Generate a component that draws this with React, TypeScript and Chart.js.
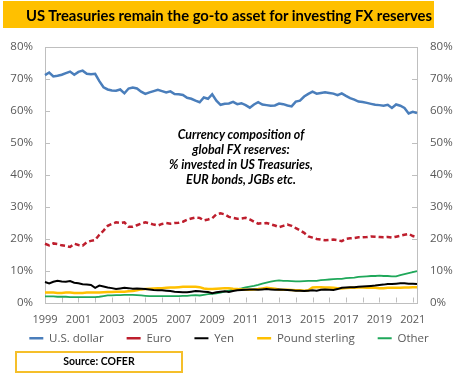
import React, { useEffect, useRef } from "react";
import { Chart, registerables } from "chart.js";

Chart.register(...registerables);

const firstYear = 1999;
const quarterCount = 90; // 1999Q1 .. 2021Q2
const quarters: string[] = [];
for (let i = 0; i < quarterCount; i++) {
  quarters.push(`${firstYear + Math.floor(i / 4)}Q${(i % 4) + 1}`);
}
const yearTickLabels = ["1999", "2001", "2003", "2005", "2007", "2009", "2011", "2013", "2015", "2017", "2019", "2021"];
const yTickValues = [0, 10, 20, 30, 40, 50, 60, 70, 80];

const seriesNames = ["U.S. dollar", "Euro", "Yen", "Pound sterling", "Other"];

const usd = [
  71.2, 72.0, 70.8, 71.0, 71.3, 71.8, 72.3, 71.3, 72.2, 72.6,
  71.6, 71.5, 71.6, 69.3, 67.4, 66.7, 66.4, 66.3, 66.7, 65.5,
  67.0, 67.3, 67.0, 66.0, 65.3, 65.8, 66.2, 66.6, 66.2, 65.8,
  66.1, 65.3, 65.2, 65.0, 64.1, 63.8, 63.2, 62.7, 64.2, 63.8,
  65.2, 63.2, 61.9, 62.2, 62.3, 62.8, 62.1, 62.4, 61.8, 61.0,
  62.0, 62.7, 62.0, 61.8, 61.6, 61.7, 62.3, 62.1, 61.7, 61.4,
  62.9, 63.2, 64.5, 65.3, 66.0, 65.4, 65.6, 65.8, 65.6, 65.4,
  64.9, 65.5, 64.7, 64.0, 63.5, 62.9, 62.8, 62.5, 62.2, 61.9,
  61.8, 61.6, 61.9, 60.9, 62.0, 61.6, 60.9, 59.2, 59.7, 59.3,
];
const euro = [
  18.4, 17.9, 18.5, 18.3, 17.9, 17.7, 17.4, 18.4, 18.0, 17.8,
  18.9, 19.3, 19.6, 21.2, 22.5, 24.0, 24.6, 25.1, 24.9, 25.1,
  23.7, 23.7, 24.2, 24.7, 25.1, 24.8, 24.4, 24.1, 24.6, 24.9,
  24.7, 24.9, 25.0, 25.3, 25.9, 26.3, 26.6, 26.5, 25.7, 26.0,
  26.4, 27.6, 27.9, 27.6, 26.8, 26.5, 26.2, 26.3, 26.5, 26.0,
  25.3, 24.7, 24.8, 24.9, 24.5, 24.1, 23.6, 24.0, 24.4, 24.0,
  23.3, 22.6, 21.8, 20.7, 20.3, 19.9, 19.7, 19.5, 19.6, 19.7,
  19.5, 19.2, 19.9, 20.1, 20.2, 20.4, 20.4, 20.5, 20.7, 20.6,
  20.5, 20.4, 20.5, 20.3, 20.6, 20.9, 21.2, 21.5, 20.8, 20.4,
];
const yen = [
  6.4, 6.0, 6.5, 6.8, 6.6, 6.5, 6.7, 6.2, 6.0, 5.7,
  5.6, 5.5, 4.6, 5.3, 5.0, 4.7, 4.5, 4.2, 4.4, 4.6,
  4.5, 4.3, 4.4, 4.3, 4.2, 4.1, 3.9, 3.8, 3.8, 3.7,
  3.6, 3.4, 3.3, 3.2, 3.2, 3.4, 3.6, 3.5, 3.4, 3.3,
  2.9, 3.2, 3.4, 3.5, 3.3, 3.6, 3.8, 3.9, 4.0, 4.1,
  4.1, 4.0, 4.1, 4.2, 4.1, 4.0, 4.1, 4.0, 3.9, 3.8,
  3.7, 3.7, 3.6, 3.7, 3.8, 3.7, 4.0, 4.1, 4.0, 3.9,
  4.2, 4.6, 4.7, 4.8, 4.8, 4.9, 5.0, 5.1, 5.2, 5.3,
  5.5, 5.6, 5.8, 5.8, 5.9, 6.0, 6.0, 5.9, 5.9, 5.8,
];
const pound = [
  3.1, 3.1, 3.1, 3.0, 3.0, 3.1, 3.1, 3.0, 3.0, 3.0,
  3.1, 3.1, 3.1, 3.1, 3.2, 3.3, 3.3, 3.4, 3.4, 3.4,
  3.5, 3.6, 3.8, 4.1, 4.2, 4.3, 4.4, 4.5, 4.5, 4.6,
  4.7, 4.7, 4.8, 4.9, 4.9, 4.9, 4.9, 4.8, 4.4, 4.2,
  4.2, 4.3, 4.4, 4.5, 4.5, 4.3, 4.2, 4.1, 4.0, 4.0,
  4.1, 4.2, 4.4, 4.6, 4.5, 4.3, 4.1, 4.0, 4.0, 3.9,
  3.8, 3.8, 3.7, 3.8, 4.7, 4.8, 4.8, 4.7, 4.7, 4.6,
  4.5, 4.4, 4.5, 4.6, 4.6, 4.7, 4.7, 4.6, 4.6, 4.6,
  4.5, 4.5, 4.6, 4.6, 4.6, 4.6, 4.7, 4.7, 4.8, 4.8,
];
const other = [
  1.9, 1.9, 1.9, 1.8, 1.8, 1.8, 1.7, 1.7, 1.7, 1.7,
  1.7, 1.7, 1.7, 1.8, 2.0, 2.2, 2.2, 2.3, 2.3, 2.4,
  2.4, 2.4, 2.3, 2.2, 2.1, 2.0, 2.0, 2.0, 2.0, 2.0,
  2.0, 2.0, 2.0, 2.1, 2.1, 2.2, 2.3, 2.2, 2.4, 2.6,
  2.7, 2.9, 3.1, 3.4, 3.7, 4.0, 4.2, 4.4, 4.7, 5.0,
  5.2, 5.5, 5.9, 6.2, 6.5, 6.8, 6.9, 6.8, 6.8, 6.7,
  6.6, 6.6, 6.7, 6.8, 6.8, 6.8, 7.0, 7.1, 7.2, 7.3,
  7.4, 7.4, 7.6, 7.7, 7.8, 8.0, 8.1, 8.2, 8.3, 8.3,
  8.4, 8.3, 8.3, 8.2, 8.2, 8.6, 8.9, 9.2, 9.5, 9.8,
];

const titleText = "US Treasuries remain the go-to asset for investing FX reserves";
const noteLines = ["Currency composition of", "global FX reserves:", "% invested in US Treasuries,", "EUR bonds, JGBs etc."];
const sourceText = "Source: COFER";

const AXIS_GREY = "#bfbfbf";
const TEXT_GREY = "#595959";

const framePlugin = {
  id: "frame",
  beforeDatasetsDraw(chart: any) {
    const { ctx, chartArea, scales } = chart;
    const { left, right, top, bottom } = chartArea;
    ctx.save();
    ctx.strokeStyle = AXIS_GREY;
    ctx.lineWidth = 1;
    ctx.setLineDash([]);
    ctx.strokeRect(Math.round(left) + 0.5, Math.round(top) + 0.5, Math.round(right - left), Math.round(bottom - top));
    ctx.beginPath();
    for (const v of yTickValues) {
      const py = Math.round(scales.y.getPixelForValue(v)) + 0.5;
      ctx.moveTo(left, py);
      ctx.lineTo(left + 5, py);
      ctx.moveTo(right - 5, py);
      ctx.lineTo(right, py);
    }
    for (let i = 0; i < quarters.length; i += 4) {
      const px = Math.round(scales.x.getPixelForValue(i)) + 0.5;
      ctx.moveTo(px, bottom);
      ctx.lineTo(px, bottom - 5);
    }
    ctx.stroke();
    ctx.restore();
  },
};

export default function App() {
  const canvasRef = useRef<HTMLCanvasElement | null>(null);

  useEffect(() => {
    if (!canvasRef.current) return;
    const chart = new Chart(canvasRef.current, {
      type: "line",
      data: {
        labels: quarters,
        datasets: [
          { label: seriesNames[0], data: usd, borderColor: "#4a7ebb", backgroundColor: "#4a7ebb", borderWidth: 2.5 },
          { label: seriesNames[1], data: euro, borderColor: "#be1e2d", backgroundColor: "#be1e2d", borderWidth: 2.5, borderDash: [5, 3] },
          { label: seriesNames[2], data: yen, borderColor: "#000000", backgroundColor: "#000000", borderWidth: 2 },
          { label: seriesNames[3], data: pound, borderColor: "#ffc000", backgroundColor: "#ffc000", borderWidth: 2.5 },
          { label: seriesNames[4], data: other, borderColor: "#1fa85a", backgroundColor: "#1fa85a", borderWidth: 1.8 },
        ].map((d) => ({ ...d, pointRadius: 0, pointHoverRadius: 0, tension: 0, fill: false, yAxisID: "y" })),
      },
      options: {
        responsive: false,
        animation: false,
        events: [],
        layout: { padding: { top: 47, left: 0, right: 0, bottom: 0 } },
        plugins: {
          tooltip: { enabled: false },
          title: { display: false },
          legend: {
            position: "bottom",
            labels: {
              usePointStyle: true,
              pointStyle: "line",
              pointStyleWidth: 14,
              padding: 23,
              color: TEXT_GREY,
              font: { family: "'Open Sans', sans-serif", size: 11.5 },
            },
          },
        },
        scales: {
          x: {
            type: "category",
            offset: false,
            grid: { display: false, drawTicks: false },
            border: { display: false },
            ticks: {
              autoSkip: false,
              maxRotation: 0,
              minRotation: 0,
              mirror: true,
              padding: -24,
              color: TEXT_GREY,
              font: { family: "'Open Sans', sans-serif", size: 11 },
              callback: (_v: any, i: number) => (i % 8 === 0 ? yearTickLabels[i / 8] : ""),
            },
            afterFit: (s: any) => {
              s.height = 7;
            },
          },
          y: {
            position: "left",
            min: 0,
            max: 80,
            grid: { display: false, drawTicks: false },
            border: { display: false },
            ticks: {
              stepSize: 10,
              padding: 12,
              color: TEXT_GREY,
              font: { family: "'Open Sans', sans-serif", size: 11.5 },
              callback: (v: any) => `${v}%`,
            },
            afterFit: (s: any) => {
              s.width = 45;
            },
          },
          y2: {
            position: "right",
            display: true,
            min: 0,
            max: 80,
            grid: { display: false, drawTicks: false },
            border: { display: false },
            ticks: {
              stepSize: 10,
              padding: 13,
              color: TEXT_GREY,
              font: { family: "'Open Sans', sans-serif", size: 11.5 },
              callback: (v: any) => `${v}%`,
            },
            afterFit: (s: any) => {
              s.width = 41;
            },
          },
        },
      },
      plugins: [framePlugin],
    } as any);
    return () => chart.destroy();
  }, []);

  return (
    <div style={{ position: "absolute", left: 0, top: 0, width: 458, height: 377, background: "#ffffff", overflow: "hidden" }}>
      <canvas ref={canvasRef} width={458} height={354} style={{ position: "absolute", left: 0, top: 0, width: 458, height: 354 }} />
      <div style={{ position: "absolute", left: 3, top: 1, width: 431, height: 27, background: "#ffc000" }} />
      <div
        style={{
          position: "absolute",
          left: 0,
          top: 1,
          width: 458,
          height: 27,
          lineHeight: "28px",
          textAlign: "center",
          fontFamily: "Lato, sans-serif",
          fontWeight: 700,
          fontSize: 14.8,
          color: "#000",
          whiteSpace: "nowrap",
        }}
      >
        {titleText}
      </div>
      <div
        style={{
          position: "absolute",
          left: 141,
          top: 127,
          width: 200,
          textAlign: "center",
          fontFamily: "Lato, sans-serif",
          fontWeight: 700,
          fontStyle: "italic",
          fontSize: 12.4,
          lineHeight: "15px",
          color: "#000",
          whiteSpace: "nowrap",
        }}
      >
        {noteLines.map((l) => (
          <div key={l}>{l}</div>
        ))}
      </div>
      <div
        style={{
          position: "absolute",
          left: 15,
          top: 351,
          width: 168,
          height: 22,
          boxSizing: "border-box",
          border: "2.5px solid #f5bf2a",
          textAlign: "center",
          lineHeight: "17px",
          fontFamily: "Lato, sans-serif",
          fontWeight: 700,
          fontSize: 10.5,
          color: "#000",
        }}
      >
        {sourceText}
      </div>
    </div>
  );
}
